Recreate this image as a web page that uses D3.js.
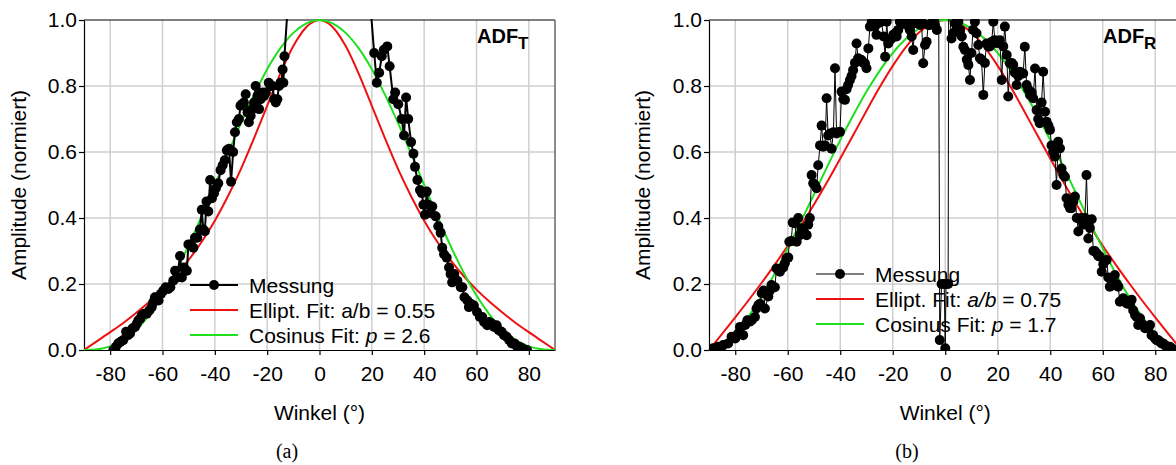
<html>
<head>
<script src="https://d3js.org/d3.v7.min.js"></script>
<style>
  body { margin: 0; background: #fff; }
  svg text { font-family: "Liberation Sans", Arial, sans-serif; fill: #000; }
</style>
</head>
<body>
<svg id="chart" width="1176" height="465"></svg>
<script>
// ---- data ----
const angleTicks = [-80, -60, -40, -20, 0, 20, 40, 60, 80];
const ampTicks = [0, 0.2, 0.4, 0.6, 0.8, 1.0];

// fit curves, sampled every 5 degrees
const fitAngles = [-90, -85, -80, -75, -70, -65, -60, -55, -50, -45, -40, -35, -30, -25, -20, -15, -10, -5,
  0, 5, 10, 15, 20, 25, 30, 35, 40, 45, 50, 55, 60, 65, 70, 75, 80, 85, 90];
const ellipFitA = [0, 0.027, 0.054, 0.082, 0.113, 0.146, 0.183, 0.225, 0.273, 0.328, 0.392, 0.466, 0.549, 0.642, 0.740, 0.837, 0.921, 0.979,
  1, 0.979, 0.921, 0.837, 0.740, 0.642, 0.549, 0.466, 0.392, 0.328, 0.273, 0.225, 0.183, 0.146, 0.113, 0.082, 0.054, 0.027, 0];
const cosFitA = [0, 0.002, 0.011, 0.030, 0.061, 0.107, 0.165, 0.236, 0.317, 0.406, 0.500, 0.595, 0.688, 0.774, 0.851, 0.914, 0.961, 0.990,
  1, 0.990, 0.961, 0.914, 0.851, 0.774, 0.688, 0.595, 0.500, 0.406, 0.317, 0.236, 0.165, 0.107, 0.061, 0.030, 0.011, 0.002, 0];
const ellipFitB = [0, 0.049, 0.099, 0.150, 0.203, 0.258, 0.316, 0.377, 0.441, 0.509, 0.580, 0.652, 0.725, 0.796, 0.861, 0.918, 0.962, 0.990,
  1, 0.990, 0.962, 0.918, 0.861, 0.796, 0.725, 0.652, 0.580, 0.509, 0.441, 0.377, 0.316, 0.258, 0.203, 0.150, 0.099, 0.049, 0];
const cosFitB = [0, 0.016, 0.051, 0.101, 0.161, 0.231, 0.308, 0.389, 0.472, 0.555, 0.636, 0.712, 0.783, 0.846, 0.900, 0.943, 0.974, 0.994,
  1, 0.994, 0.974, 0.943, 0.900, 0.846, 0.783, 0.712, 0.636, 0.555, 0.472, 0.389, 0.308, 0.231, 0.161, 0.101, 0.051, 0.016, 0];

// measurement (a): ADF_T, values above 1 run off the top of the plot
const angleA = [-78.8, -77.8, -76.9, -76, -75, -73.9, -73.2, -72.4, -71.5, -70.5, -69.8, -69.2, -68.5, -67.9, -67, -66, -65, -64.1,
  -63.5, -62.9, -62.2, -61.5, -60.6, -59.7, -58.8, -57.8, -57, -55.9, -55.2, -54.4, -53.3, -52.6, -51.8, -50.7, -50.1, -49.2,
  -48.2, -47.6, -46.7, -45.7, -45, -44.4, -43.8, -43.2, -42.5, -41.8, -41.1, -40.3, -39.6, -38.7, -37.8, -37, -36.2, -35.4,
  -34.6, -33.8, -33, -32.3, -31.6, -30.8, -30.2, -29.6, -28.9, -28.2, -27.5, -27, -26.3, -25.7, -25, -24.4, -23.7, -23.1,
  -22.5, -21.8, -21.2, -20.5, -19.4, -18.7, -18, -17.3, -16.7, -16.1, -15.5, -14.9, -14.6, -14.1, -13.8, -13.4, -11,
  18.5, 20.9, 21.9, 22.8, 23.8, 24.6, 25.9, 26.8, 28.2, 28.9, 30.1, 31.4, 32.3, 33.1, 33.9, 35, 35.9, 36.5, 37.4, 38.4,
  39.1, 39.7, 40.3, 41, 41.6, 42.5, 43.1, 44.4, 45.4, 46.3, 46.9, 47.6, 48.6, 49.5, 50.1, 50.7, 51.5, 52.7, 54, 54.6,
  55.4, 56.5, 57.1, 57.8, 59, 60.2, 61.3, 62.2, 62.9, 64.1, 64.8, 65.8, 66.7, 67.7, 68.5, 69.6, 70.5, 71.5, 72.5, 73.5,
  74.5, 75.5, 76.5, 77.5, 78.5, 79.3];
const messungA = [0.00, 0.01, 0.02, 0.025, 0.03, 0.055, 0.045, 0.05, 0.065, 0.07, 0.08, 0.09, 0.095, 0.105, 0.11, 0.11, 0.12, 0.13,
  0.145, 0.16, 0.16, 0.15, 0.17, 0.18, 0.19, 0.185, 0.19, 0.21, 0.24, 0.22, 0.285, 0.22, 0.25, 0.24, 0.32, 0.32,
  0.31, 0.34, 0.34, 0.365, 0.425, 0.365, 0.36, 0.45, 0.42, 0.515, 0.46, 0.475, 0.49, 0.505, 0.545, 0.56, 0.575, 0.605,
  0.61, 0.51, 0.60, 0.66, 0.69, 0.70, 0.74, 0.745, 0.75, 0.775, 0.72, 0.69, 0.71, 0.73, 0.75, 0.80, 0.77, 0.73,
  0.76, 0.78, 0.77, 0.78, 0.81, 0.80, 0.80, 0.76, 0.75, 0.76, 0.80, 0.81, 0.81, 0.85, 0.81, 0.89, 1.18,
  1.14, 0.90, 0.81, 0.84, 0.89, 0.91, 0.92, 0.86, 0.76, 0.78, 0.745, 0.70, 0.65, 0.765, 0.70, 0.63, 0.595, 0.555, 0.515, 0.485,
  0.475, 0.44, 0.41, 0.48, 0.44, 0.415, 0.435, 0.405, 0.375, 0.355, 0.31, 0.29, 0.28, 0.25, 0.23, 0.205, 0.23, 0.21, 0.19, 0.19,
  0.16, 0.15, 0.13, 0.14, 0.135, 0.115, 0.10, 0.10, 0.085, 0.075, 0.085, 0.08, 0.07, 0.075, 0.06, 0.055, 0.045, 0.04, 0.03, 0.02,
  0.02, 0.01, 0.01, 0.005, 0.0, 0.0];

// measurement (b): ADF_R, with the drop-out around 0 degrees
const angleB = [-89.7, -88.4, -86.5, -85.2, -84.6, -82.7, -81.4, -80, -78.9, -78.2, -77, -76.2, -75.4, -74.5, -73.7, -72.5,
  -71.9, -71.2, -70.6, -69.9, -69.2, -68.7, -67.4, -66.8, -66.2, -64.9, -64.3, -63.6, -63, -62.4, -61.7, -61.1, -60.5,
  -59.8, -59.4, -58.7, -58.1, -57.3, -56.6, -56, -55.4, -54.7, -54.1, -53.5, -52.8, -52.2, -51.6, -50.9, -50.3, -49.6,
  -49, -48.4, -47.7, -47.1, -46.5, -45.8, -45.2, -44.6, -43.9, -43.3, -42.6, -42, -41.4, -40.7, -40.1, -39.5, -38.8,
  -38.2, -37.6, -37, -36.3, -35.7, -35.1, -34.4, -33.8, -33.2, -32.5, -31.9, -31.2, -30.6, -30, -29.3, -28.7, -28,
  -27.4, -26.8, -26.2, -25.5, -24.9, -24.3, -23.5, -22.9, -22.3, -21.7, -21, -20.4, -19.8, -19.1, -18.5, -17.9, -17.3,
  -16.6, -16, -15.4, -14.7, -14.1, -13.5, -12.8, -12.2, -11.6, -10.9, -10.3, -9.6, -9, -8.4, -7.7, -7.1, -6.5, -5.8,
  -5.2, -4.5, -3.9, -3.2, -2.5, -2.1, -1.4, -0.4, 0, 0.3, 1.1, 1.3, 2.4, 3, 3.7, 4.3, 5, 5.7, 6.3, 6.9, 7.5, 8.2, 8.8,
  9.4, 10, 10.6, 11.3, 11.9, 12.6, 13.2, 13.8, 14.5, 15.1, 15.7, 16.4, 17, 17.7, 18.3, 18.9, 19.6, 20.2, 20.8, 21.5,
  22.1, 22.7, 23.4, 24, 24.6, 25.3, 25.9, 26.5, 27.2, 27.8, 28.4, 29, 29.7, 30.3, 31, 31.6, 32.3, 32.9, 33.5, 34.2,
  34.8, 35.4, 36, 36.7, 37.3, 38, 38.6, 39.3, 39.9, 40.5, 41.1, 41.8, 42.4, 43, 43.7, 44.3, 45, 45.6, 46.2, 46.9,
  47.5, 48.1, 48.8, 49.4, 50.1, 50.7, 51.3, 51.9, 52.6, 53.2, 53.8, 54.5, 55.1, 55.8, 56.4, 57, 57.7, 58.3, 58.9,
  59.6, 60.2, 60.8, 61.5, 62.1, 62.7, 63.4, 64, 64.6, 65.3, 65.9, 66.5, 67.2, 67.8, 68.4, 69.1, 69.7, 70.4, 71, 71.6,
  72.3, 72.9, 73.5, 74.2, 74.8, 75.5, 76.1, 76.7, 77.3, 78, 78.6, 79.2, 79.9, 80.5, 81.1, 81.8, 82.4, 83, 83.7, 84.3,
  84.9, 85.6, 86.2, 86.8, 87.5, 88.1, 88.8, 89.4];
const messungB = [0, 0.005, 0.01, 0.01, 0.015, 0.02, 0.04, 0.035, 0.05, 0.07, 0.045, 0.076, 0.09, 0.086, 0.09, 0.10,
  0.126, 0.136, 0.14, 0.172, 0.18, 0.126, 0.162, 0.18, 0.197, 0.19, 0.247, 0.242, 0.237, 0.247, 0.25, 0.263, 0.278,
  0.28, 0.328, 0.33, 0.386, 0.384, 0.328, 0.40, 0.348, 0.369, 0.354, 0.354, 0.348, 0.38, 0.40, 0.53, 0.505, 0.50,
  0.49, 0.56, 0.62, 0.68, 0.616, 0.62, 0.763, 0.65, 0.656, 0.61, 0.66, 0.854, 0.656, 0.66, 0.661, 0.783, 0.76,
  0.758, 0.79, 0.803, 0.818, 0.83, 0.848, 0.87, 0.929, 0.884, 0.88, 0.879, 0.87, 0.869, 0.854, 0.914, 0.98, 0.995,
  0.995, 0.98, 0.955, 0.99, 0.995, 0.995, 0.95, 0.889, 0.995, 0.929, 0.94, 0.944, 0.955, 0.96, 0.95, 0.97, 0.995,
  0.99, 0.995, 0.99, 0.985, 0.995, 0.97, 0.95, 0.909, 0.995, 0.99, 0.995, 0.985, 0.995, 0.869, 0.924, 0.934, 0.985, 0.985,
  0.99, 0.995, 0.985, 0.97, 1.05, 0.03, 0.20, 0.20, 0.005, 0.20, 0.20, 1.05, 0.944, 0.96, 0.99, 0.97, 0.995, 0.97, 0.95, 0.919, 0.909, 0.88, 0.864,
  0.818, 0.90, 0.97, 0.995, 0.96, 0.924, 0.884, 0.88, 0.773, 0.87, 0.929, 0.92, 0.92, 0.934, 0.995, 0.939, 0.93, 0.934, 0.939, 0.818,
  0.92, 0.98, 0.894, 0.768, 0.869, 0.87, 0.864, 0.84, 0.803, 0.83, 0.843, 0.84, 0.838, 0.919, 0.803, 0.79, 0.773, 0.78, 0.763, 0.853,
  0.727, 0.70, 0.687, 0.75, 0.843, 0.722, 0.692, 0.68, 0.667, 0.62, 0.601, 0.586, 0.50, 0.631, 0.611, 0.55, 0.53, 0.525, 0.46, 0.44,
  0.43, 0.43, 0.45, 0.465, 0.40, 0.359, 0.396, 0.40, 0.38, 0.40, 0.53, 0.338, 0.37, 0.396, 0.30, 0.30, 0.293, 0.285, 0.283,
  0.237, 0.26, 0.27, 0.273, 0.22, 0.192, 0.20, 0.197, 0.227, 0.20, 0.192, 0.146, 0.15, 0.157, 0.15, 0.141, 0.14, 0.14, 0.152, 0.12,
  0.106, 0.10, 0.076, 0.096, 0.08, 0.075, 0.066, 0.07, 0.066, 0.076, 0.045, 0.045, 0.035, 0.03, 0.03, 0.025, 0.02, 0.02, 0.015, 0.01,
  0.01, 0.01, 0.005, 0.003, 0, 0, 0, 0];

const svg = d3.select("#chart");
const FONT = 21;
const RED = "#ee1111";
const GREEN = "#1ee01e";

function drawPanel(p) {
    const top = 20, bottom = 350;
    const x = d3.scaleLinear().domain([-90, 90]).range([p.left, p.right]);
    const y = d3.scaleLinear().domain([0, 1]).range([bottom, top]);

    const g = svg.append("g");

    // grid
    g.selectAll(".vgrid").data(angleTicks).enter().append("line")
        .attr("x1", d => x(d)).attr("x2", d => x(d))
        .attr("y1", top).attr("y2", bottom)
        .attr("stroke", "#cfcfcf").attr("stroke-width", 1.5);
    g.selectAll(".hgrid").data(ampTicks.slice(1, -1)).enter().append("line")
        .attr("x1", p.left).attr("x2", p.right)
        .attr("y1", d => y(d)).attr("y2", d => y(d))
        .attr("stroke", "#cfcfcf").attr("stroke-width", 1.5);

    // frame: top black, right gray
    g.append("line").attr("x1", p.left).attr("x2", p.right).attr("y1", top).attr("y2", top)
        .attr("stroke", "#000").attr("stroke-width", 1.2);
    g.append("line").attr("x1", p.right).attr("x2", p.right).attr("y1", top).attr("y2", bottom)
        .attr("stroke", "#666").attr("stroke-width", 1.5);

    // axes (plain hyphen for negatives, like the original)
    const ax = g.append("g").attr("transform", `translate(0,${bottom})`)
        .call(d3.axisBottom(x).tickValues(angleTicks).tickSize(5).tickSizeOuter(0).tickPadding(11)
            .tickFormat(d => String(d)));
    const ay = g.append("g").attr("transform", `translate(${p.left},0)`)
        .call(d3.axisLeft(y).tickValues(ampTicks).tickSize(5).tickSizeOuter(0).tickPadding(2)
            .tickFormat(d => d.toFixed(1)));
    [ax, ay].forEach(a => {
        a.selectAll("text").style("font-size", FONT + "px").style("font-family", "Liberation Sans, Arial, sans-serif");
        a.selectAll("line, path").attr("stroke", "#000").attr("stroke-width", 1.2);
    });

    // titles
    g.append("text").attr("x", (p.left + p.right) / 2).attr("y", 420)
        .attr("text-anchor", "middle").style("font-size", FONT + "px").text("Winkel (°)");
    g.append("text").attr("transform", `translate(${p.yTitleX},185) rotate(-90)`)
        .attr("text-anchor", "middle").attr("dominant-baseline", "central")
        .style("font-size", FONT + "px").text("Amplitude (normiert)");

    // panel label ADF_x
    const lab = g.append("text").attr("x", p.labelX).attr("y", 43)
        .style("font-size", "20px").style("font-weight", "bold").text("ADF");
    lab.append("tspan").attr("dy", 6).style("font-size", "17px").text(p.sub);

    // legend (drawn under the data)
    const lg = g.append("g");
    const rows = [
        {c: "#000", w: p.lineW},
        {c: RED, w: 2},
        {c: GREEN, w: 2}
    ];
    rows.forEach((r, i) => {
        const ly = p.legendY + i * 25;
        lg.append("line").attr("x1", p.legendX).attr("x2", p.legendX + 48)
            .attr("y1", ly).attr("y2", ly).attr("stroke", r.c).attr("stroke-width", r.w);
        if (i === 0) lg.append("circle").attr("cx", p.legendX + 24).attr("cy", ly).attr("r", 5).attr("fill", "#000");
    });
    const tx = p.legendX + 59;
    lg.append("text").attr("x", tx).attr("y", p.legendY).attr("dominant-baseline", "central")
        .style("font-size", FONT + "px").text("Messung");
    const t1 = lg.append("text").attr("x", tx).attr("y", p.legendY + 25).attr("dominant-baseline", "central")
        .style("font-size", FONT + "px");
    t1.append("tspan").text("Ellipt. Fit: ");
    t1.append("tspan").style("font-style", p.italicAB ? "italic" : "normal").text("a/b");
    t1.append("tspan").text(" = " + p.ab);
    const t2 = lg.append("text").attr("x", tx).attr("y", p.legendY + 50).attr("dominant-baseline", "central")
        .style("font-size", FONT + "px");
    t2.append("tspan").text("Cosinus Fit: ");
    t2.append("tspan").style("font-style", "italic").text("p");
    t2.append("tspan").text(" = " + p.pval);

    // clip to the plot area
    svg.append("clipPath").attr("id", p.id)
        .append("rect").attr("x", p.left).attr("y", top - 1).attr("width", p.right - p.left).attr("height", bottom - top + 1);
    const plot = g.append("g").attr("clip-path", `url(#${p.id})`);

    const fitLine = d3.line().x((d, i) => x(fitAngles[i])).y(d => y(d)).curve(d3.curveMonotoneX);
    plot.append("path").datum(p.ellip).attr("d", fitLine)
        .attr("fill", "none").attr("stroke", RED).attr("stroke-width", 2);
    plot.append("path").datum(p.cos).attr("d", fitLine)
        .attr("fill", "none").attr("stroke", GREEN).attr("stroke-width", 2);

    const pts = p.angles.map((a, i) => ({a: a, v: p.values[i]}));
    plot.append("path").datum(pts)
        .attr("d", d3.line().x(d => x(d.a)).y(d => y(d.v)))
        .attr("fill", "none").attr("stroke", "#000").attr("stroke-width", p.lineW);
    plot.selectAll(".pt").data(pts).enter().append("circle")
        .attr("cx", d => x(d.a)).attr("cy", d => y(d.v)).attr("r", 5).attr("fill", "#000");

    // caption
    svg.append("text").attr("x", p.capX).attr("y", 458).attr("text-anchor", "middle")
        .style("font-family", "Liberation Serif, DejaVu Serif, serif").style("font-size", "20px")
        .text(p.caption);
}

drawPanel({
    id: "clipA", left: 84, right: 555, yTitleX: 18, labelX: 477, sub: "T",
    angles: angleA, values: messungA, ellip: ellipFitA, cos: cosFitA, lineW: 2,
    legendX: 190, legendY: 285, italicAB: false, ab: "0.55", pval: "2.6",
    caption: "(a)", capX: 287
});
drawPanel({
    id: "clipB", left: 709, right: 1181.5, yTitleX: 642, labelX: 1103, sub: "R",
    angles: angleB, values: messungB, ellip: ellipFitB, cos: cosFitB, lineW: 1,
    legendX: 816, legendY: 274, italicAB: true, ab: "0.75", pval: "1.7",
    caption: "(b)", capX: 907
});
</script>
</body>
</html>
